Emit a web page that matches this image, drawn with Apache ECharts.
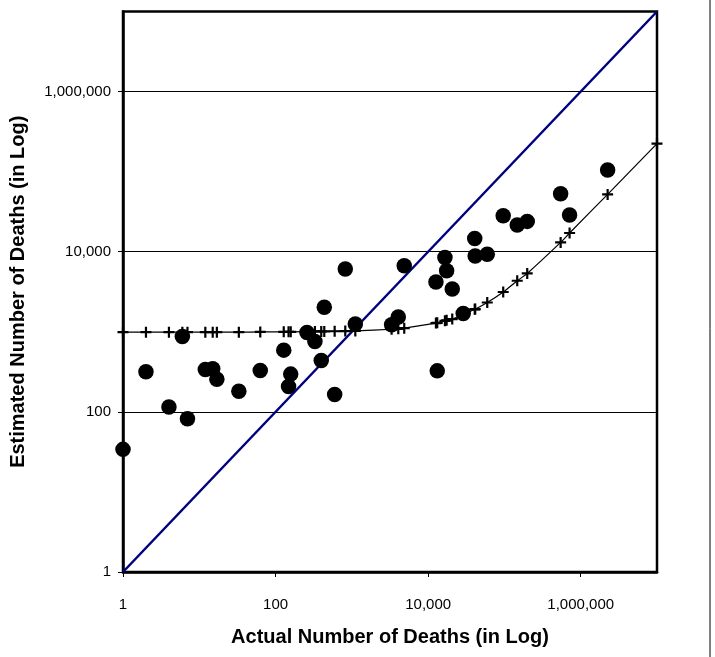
<!DOCTYPE html>
<html>
<head>
<meta charset="utf-8">
<style>
  html, body { margin: 0; padding: 0; background: #fff; }
  #chart { width: 715px; height: 657px; }
</style>
<script src="https://cdn.jsdelivr.net/npm/echarts@6/dist/echarts.min.js"></script>
</head>
<body>
<div id="chart"></div>
<script>
// actual vs estimated deaths
const actualDeaths = [
  1, 2, 4, 6, 7, 12, 15, 17, 33, 63, 128, 148, 158, 258, 328, 397, 435, 595,
  820, 1110, 3320, 4060, 4860, 12650, 13160, 16600, 17470, 20700, 28840,
  40800, 41400, 59550, 96400, 147200, 199000, 545500, 714800, 2253000,
];
const estimatedDeaths = [
  34, 316, 115, 874, 82, 338, 345, 256, 181, 328, 590, 207, 296, 980, 756, 438,
  2024, 165, 6080, 1248, 1223, 1527, 6680, 4180, 325, 8490, 5790, 3420, 1690,
  14660, 8830, 9300, 28180, 21560, 23920, 53090, 28740, 105000,
];

// fitted curve (+ markers)
const fitActual = [
  1, 2, 4, 6, 7, 12, 15, 17, 33, 63, 128, 148, 158, 258, 328, 397, 435, 595,
  820, 1110, 3320, 4060, 4860, 12650, 13160, 16600, 17470, 20700, 28840,
  40800, 41400, 59550, 96400, 147200, 199000, 545500, 714800, 2253000, 10000000,
];
const fitEstimated = [
  990, 990, 990, 990, 990, 990, 990, 990, 990, 995, 1000, 1000, 1000, 1005,
  1010, 1010, 1010, 1015, 1020, 1025, 1075, 1090, 1110, 1285, 1295, 1370, 1390,
  1440, 1650, 1910, 1920, 2320, 3140, 4340, 5350, 13060, 17130, 52000, 224000,
];

// y = x reference line
const diagonal = [1, 10000000];

const tickValues = [1, 100, 10000, 1000000];

const FONT = '"Liberation Sans", Arial, sans-serif';
const PLUS = 'path://M4,0 H6 V4 H10 V6 H6 V10 H4 V6 H0 V4 H4 Z';

const chart = echarts.init(document.getElementById("chart"), null, { renderer: "canvas" });

const logAxis = (name, nameGap, labelMargin) => ({
  type: "log",
  logBase: 10,
  min: 1,
  max: 10000000,
  name,
  nameLocation: "middle",
  nameGap,
  nameTextStyle: { fontFamily: FONT, fontWeight: "bold", fontSize: 20, color: "#000" },
  axisLine: { show: true, lineStyle: { color: "#000", width: 2.5 } },
  axisTick: { show: true, inside: false, length: 5, lineStyle: { color: "#000", width: 1 }, customValues: tickValues },
  axisLabel: {
    show: true,
    margin: labelMargin,
    fontFamily: FONT,
    fontSize: 15,
    color: "#000",
    customValues: tickValues,
    formatter: (v) => Math.round(v).toLocaleString("en-US"),
  },
  splitLine: { show: false },
  minorTick: { show: false },
});

const xAxis = logAxis("Actual Number of Deaths (in Log)", 55, 25);
const yAxis = logAxis("Estimated Number of Deaths (in Log)", 95, 12);
yAxis.splitLine = { show: true, lineStyle: { color: "#000", width: 1 } };
yAxis.interval = 2;

chart.setOption({
  animation: false,
  backgroundColor: "#fff",
  grid: {
    left: 123,
    right: 58,
    top: 11.5,
    bottom: 85,
    containLabel: false,
    outerBoundsMode: "none",
    show: true,
    borderColor: "#000",
    borderWidth: 2.5,
    backgroundColor: "transparent",
  },
  xAxis,
  yAxis,
  graphic: [
    {
      type: "line",
      shape: { x1: 710, y1: 0, x2: 710, y2: 657 },
      style: { stroke: "#000", lineWidth: 1 },
    },
  ],
  series: [
    {
      name: "Perfect estimate",
      type: "line",
      data: diagonal.map((v) => [v, v]),
      showSymbol: false,
      lineStyle: { color: "#000080", width: 2.5 },
      z: 2,
    },
    {
      name: "Fitted",
      type: "line",
      data: fitActual.map((x, i) => [x, fitEstimated[i]]),
      smooth: 0.3,
      symbol: PLUS,
      symbolSize: 11,
      showAllSymbol: true,
      itemStyle: { color: "#000", opacity: 1 },
      lineStyle: { color: "#000", width: 1.2 },
      z: 3,
    },
    {
      name: "Countries",
      type: "scatter",
      data: actualDeaths.map((x, i) => [x, estimatedDeaths[i]]),
      symbol: "circle",
      symbolSize: 15.5,
      itemStyle: { color: "#000", opacity: 1 },
      z: 4,
    },
  ],
});
</script>
</body>
</html>
